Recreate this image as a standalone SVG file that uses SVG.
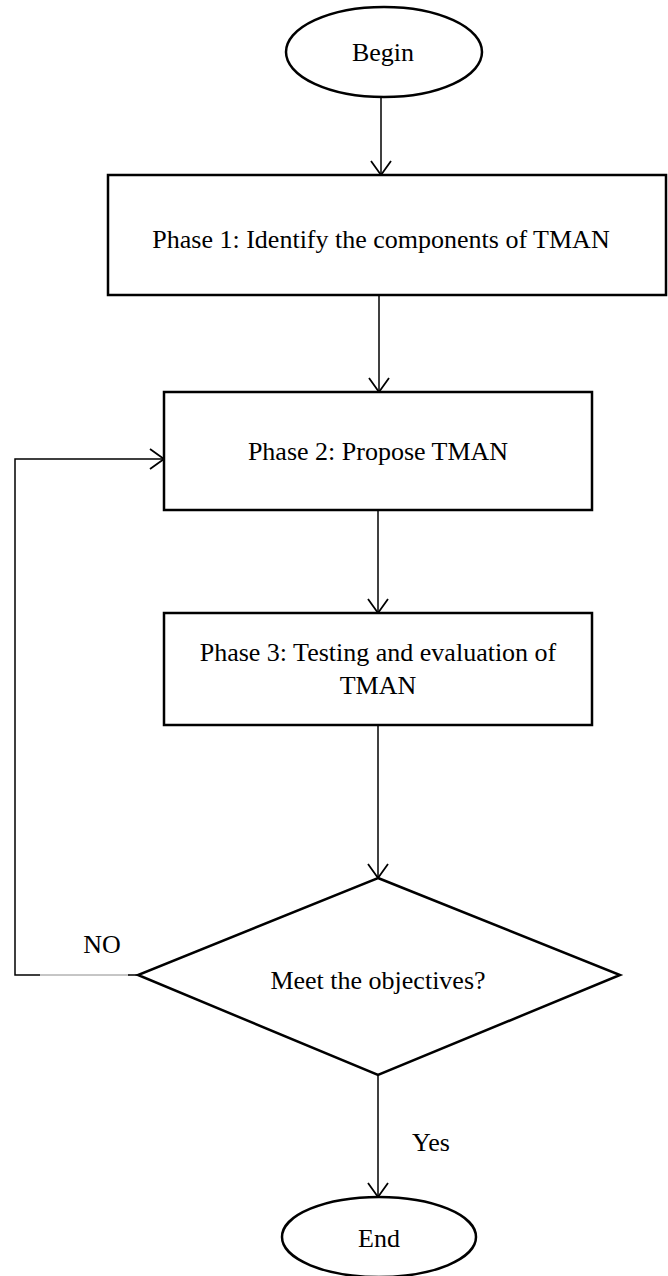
<svg xmlns="http://www.w3.org/2000/svg" width="668" height="1276" viewBox="0 0 668 1276">
  <style>
    .shape { fill: #ffffff; stroke: #000000; stroke-width: 2.5; }
    .conn { fill: none; stroke: #000000; stroke-width: 1.5; }
    .label { font-family: "Liberation Serif", "Times New Roman", serif; font-size: 26px; fill: #000000; text-anchor: middle; }
  </style>
  <defs>
    <marker id="arrow" markerWidth="20" markerHeight="24" refX="16" refY="12" orient="auto" markerUnits="userSpaceOnUse">
      <path d="M2,2 L16,12 L2,22" fill="none" stroke="#000000" stroke-width="1.8"/>
    </marker>
  </defs>
  <rect width="668" height="1276" fill="#ffffff"/>

  <!-- connectors -->
  <g id="connectors">
    <line class="conn" x1="381" y1="97" x2="381" y2="175" marker-end="url(#arrow)"/>
    <line class="conn" x1="379" y1="295" x2="379" y2="392" marker-end="url(#arrow)"/>
    <line class="conn" x1="378" y1="510" x2="378" y2="613" marker-end="url(#arrow)"/>
    <line class="conn" x1="378" y1="725" x2="378" y2="878" marker-end="url(#arrow)"/>
    <line class="conn" x1="378" y1="1075" x2="378" y2="1197" marker-end="url(#arrow)"/>
    <!-- NO loop back to phase 2 -->
    <polyline class="conn" points="40,975 15,975 15,459 164,459" marker-end="url(#arrow)"/>
    <line x1="40" y1="975" x2="130" y2="975" stroke="#8c8c8c" stroke-width="1"/>
    <line class="conn" x1="128" y1="975" x2="138" y2="975"/>
  </g>

  <g id="begin">
    <ellipse class="shape" cx="384" cy="52" rx="98" ry="45"/>
    <text class="label" x="383" y="61">Begin</text>
  </g>

  <g id="phase1">
    <rect class="shape" x="108" y="175" width="558" height="120"/>
    <text class="label" x="381" y="248">Phase 1: Identify the components of TMAN</text>
  </g>

  <g id="phase2">
    <rect class="shape" x="164" y="392" width="428" height="118"/>
    <text class="label" x="378" y="460">Phase 2: Propose TMAN</text>
  </g>

  <g id="phase3">
    <rect class="shape" x="164" y="613" width="428" height="112"/>
    <text class="label" x="378" y="661">Phase 3: Testing and evaluation of</text>
    <text class="label" x="378" y="694">TMAN</text>
  </g>

  <g id="decision">
    <polygon class="shape" points="378,878 620,975 378,1075 138,975"/>
    <text class="label" x="378" y="989">Meet the objectives?</text>
  </g>

  <g id="end">
    <ellipse class="shape" cx="379" cy="1237" rx="97" ry="40"/>
    <text class="label" x="379" y="1247">End</text>
  </g>

  <g id="edge-labels">
    <text class="label" x="102" y="953">NO</text>
    <text class="label" x="431" y="1151">Yes</text>
  </g>
</svg>
